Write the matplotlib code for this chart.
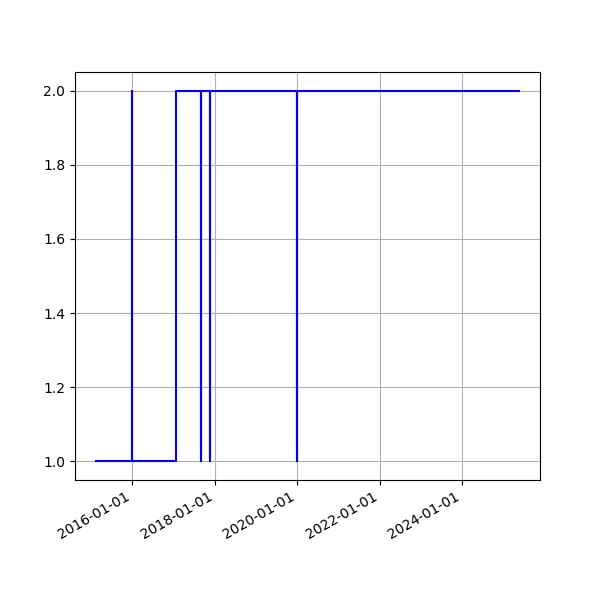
import pandas as pd
import matplotlib
matplotlib.use("Agg")
import matplotlib.pyplot as plt
import matplotlib.dates as mdates

# Zeitpunkte und Zustandswerte (Stufenverlauf)
dates = ["2015-02-15", "2015-12-29", "2016-01-02", "2017-01-20", "2017-09-02",
         "2017-09-05", "2017-11-21", "2017-11-24", "2019-12-30", "2020-01-03",
         "2025-05-20"]
values = [1, 2, 1, 2, 1, 2, 1, 2, 1, 2, 2]

x = pd.to_datetime(dates)

fig, ax = plt.subplots(figsize=(6, 6), dpi=100)
ax.plot(x, values, color="blue", drawstyle="steps-post")
ax.xaxis.set_major_locator(mdates.YearLocator(2))
ax.xaxis.set_major_formatter(mdates.DateFormatter("%Y-%m-%d"))
ax.grid(True)
fig.autofmt_xdate()

plt.savefig("out.png", dpi=100)
plt.close("all")
